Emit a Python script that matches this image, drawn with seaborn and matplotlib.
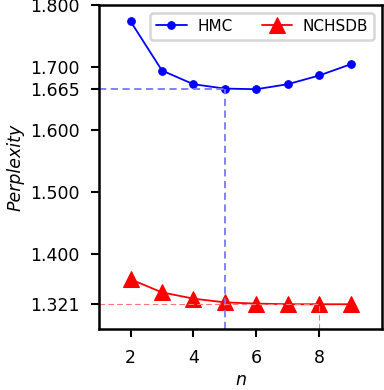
import matplotlib
matplotlib.use("Agg")
import matplotlib.pyplot as plt
import seaborn as sns
import pandas as pd

n_values = [2, 3, 4, 5, 6, 7, 8, 9]
hmc = [1.774, 1.695, 1.673, 1.666, 1.665, 1.673, 1.687, 1.705]
nchsdb = [1.360, 1.339, 1.329, 1.323, 1.321, 1.320, 1.320, 1.320]
yticks = [1.321, 1.400, 1.500, 1.600, 1.665, 1.700, 1.800]
xticks = [2, 4, 6, 8]

sns.set_style("ticks")
plt.rcParams['font.family'] = ['DejaVu Sans']
plt.rcParams['text.color'] = 'black'
plt.rcParams['axes.labelcolor'] = 'black'
plt.rcParams['xtick.color'] = 'black'
plt.rcParams['ytick.color'] = 'black'

fig = plt.figure(figsize=(3.84, 3.90), dpi=100)
ax = fig.add_axes([0.258, 0.156, 0.737, 0.831])

df = pd.DataFrame({"n": n_values, "HMC": hmc, "NCHSDB": nchsdb})
sns.lineplot(data=df, x="n", y="HMC", ax=ax, color="blue", marker="o",
             markersize=5.5, markeredgecolor="blue", linewidth=1.3, label="HMC")
sns.lineplot(data=df, x="n", y="NCHSDB", ax=ax, color="red", marker="^",
             markersize=12, markeredgecolor="red", linewidth=1.3, label="NCHSDB")

# reference lines
ax.plot([1, 5], [1.665, 1.665], color="#7777ff", linestyle=(0, (4, 2.5)), linewidth=1.3)
ax.plot([5, 5], [1.28, 1.665], color="#7777ff", linestyle=(0, (4, 2.5)), linewidth=1.3)
ax.plot([1, 8], [1.321, 1.321], color="#ff7777", linestyle=(0, (5, 3)), linewidth=0.8)
ax.plot([8, 8], [1.28, 1.321], color="#ff7777", linestyle=(0, (5, 3)), linewidth=0.8)

ax.set_xlim(1, 10)
ax.set_ylim(1.28, 1.80)
ax.set_xticks(xticks)
ax.set_yticks(yticks)
ax.set_yticklabels([f"{v:.3f}" for v in yticks])
ax.tick_params(axis="both", labelsize=12.5, length=6, width=1.5, color="black",
               labelcolor="black", direction="out", pad=8)
for s in ax.spines.values():
    s.set_linewidth(1.8)
    s.set_color("black")
    s.set_visible(True)

ax.set_xlabel("n", fontsize=12.5, style="italic", color="black", labelpad=3)
ax.set_ylabel("Perplexity", fontsize=12.5, style="italic", color="black", labelpad=4)

leg = ax.legend(loc="upper right", ncol=2, fontsize=11, frameon=True, fancybox=True,
                handlelength=2.0, handletextpad=0.7, columnspacing=1.9,
                borderpad=0.4, borderaxespad=0.5)
leg.get_frame().set_edgecolor("#cccccc")
leg.get_frame().set_linewidth(1.8)
for t in leg.get_texts():
    t.set_color("black")

fig.savefig("out.png", dpi=100)
